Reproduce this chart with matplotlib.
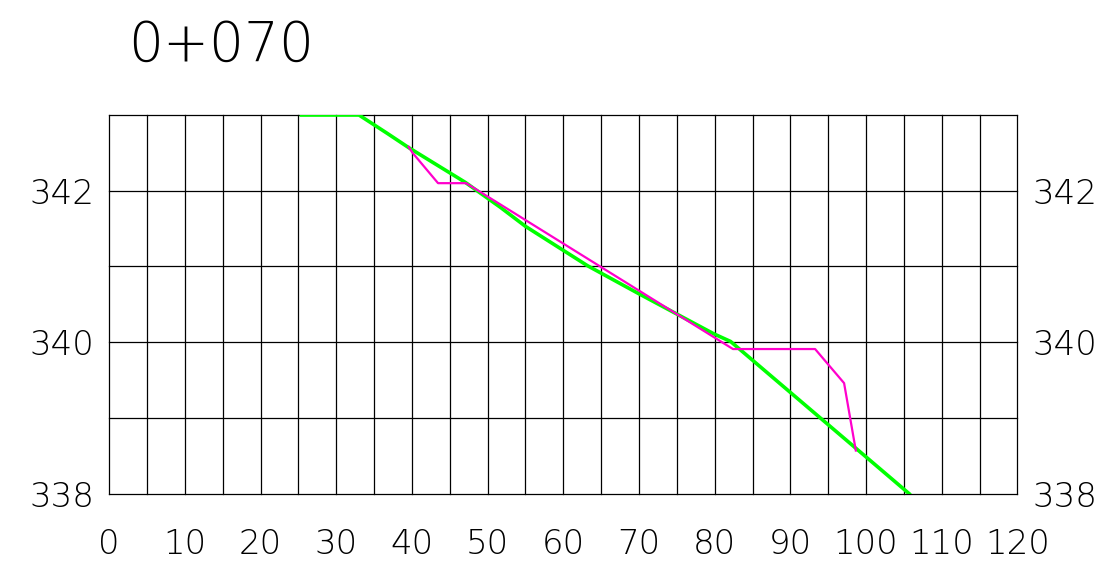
import matplotlib
matplotlib.use("Agg")
import matplotlib.pyplot as plt

# Data
green_x = [25.4, 33.0, 36.7, 39.56, 47.06, 51.7, 55.0, 63.2, 69.8, 79.9, 82.1, 105.7]
green_y = [343.0, 343.0, 342.76, 342.57, 342.11, 341.78, 341.53, 341.01, 340.65, 340.11, 340.01, 338.0]
magenta_x = [39.56, 40.09, 43.45, 47.16, 82.42, 93.27, 97.10, 98.65]
magenta_y = [342.58, 342.50, 342.10, 342.10, 339.91, 339.91, 339.46, 338.57]
x_ticks = [0, 10, 20, 30, 40, 50, 60, 70, 80, 90, 100, 110, 120]
y_ticks = [338, 340, 342]
title_text = "0+070"

fig = plt.figure(figsize=(11.18, 5.67), dpi=100)
ax = fig.add_axes([109.2 / 1118, 73.3 / 567, 908.2 / 1118, 378.7 / 567])
ax.set_xlim(0, 120)
ax.set_ylim(338, 343)

for xv in range(0, 121, 5):
    ax.axvline(xv, color="black", lw=0.9, zorder=1, clip_on=False)
for yv in range(338, 344):
    ax.axhline(yv, color="black", lw=0.9, zorder=1, clip_on=False)

ax.plot(green_x, green_y, color="#00ff00", lw=2.6, zorder=3)
ax.plot(magenta_x, magenta_y, color="#ff00cc", lw=1.6, zorder=4)

for s in ax.spines.values():
    s.set_visible(False)

ax.set_xticks(x_ticks)
ax.set_xticklabels([str(v) for v in x_ticks])
ax.set_yticks(y_ticks)
ax.set_yticklabels([str(v) for v in y_ticks])
ax.tick_params(axis="x", length=0, pad=25, labelsize=24.5)
ax.tick_params(axis="y", length=0, pad=10.5, labelsize=24.5, labelright=True)
for lab in ax.get_xticklabels() + ax.get_yticklabels():
    lab.set_family("DejaVu Sans")
    lab.set_fontweight("light")

fig.text(128 / 1118, 1 - 46 / 567, title_text, fontsize=39.5, va="center", ha="left",
         family="DejaVu Sans", fontweight="light")

fig.savefig("out.png", dpi=100)
